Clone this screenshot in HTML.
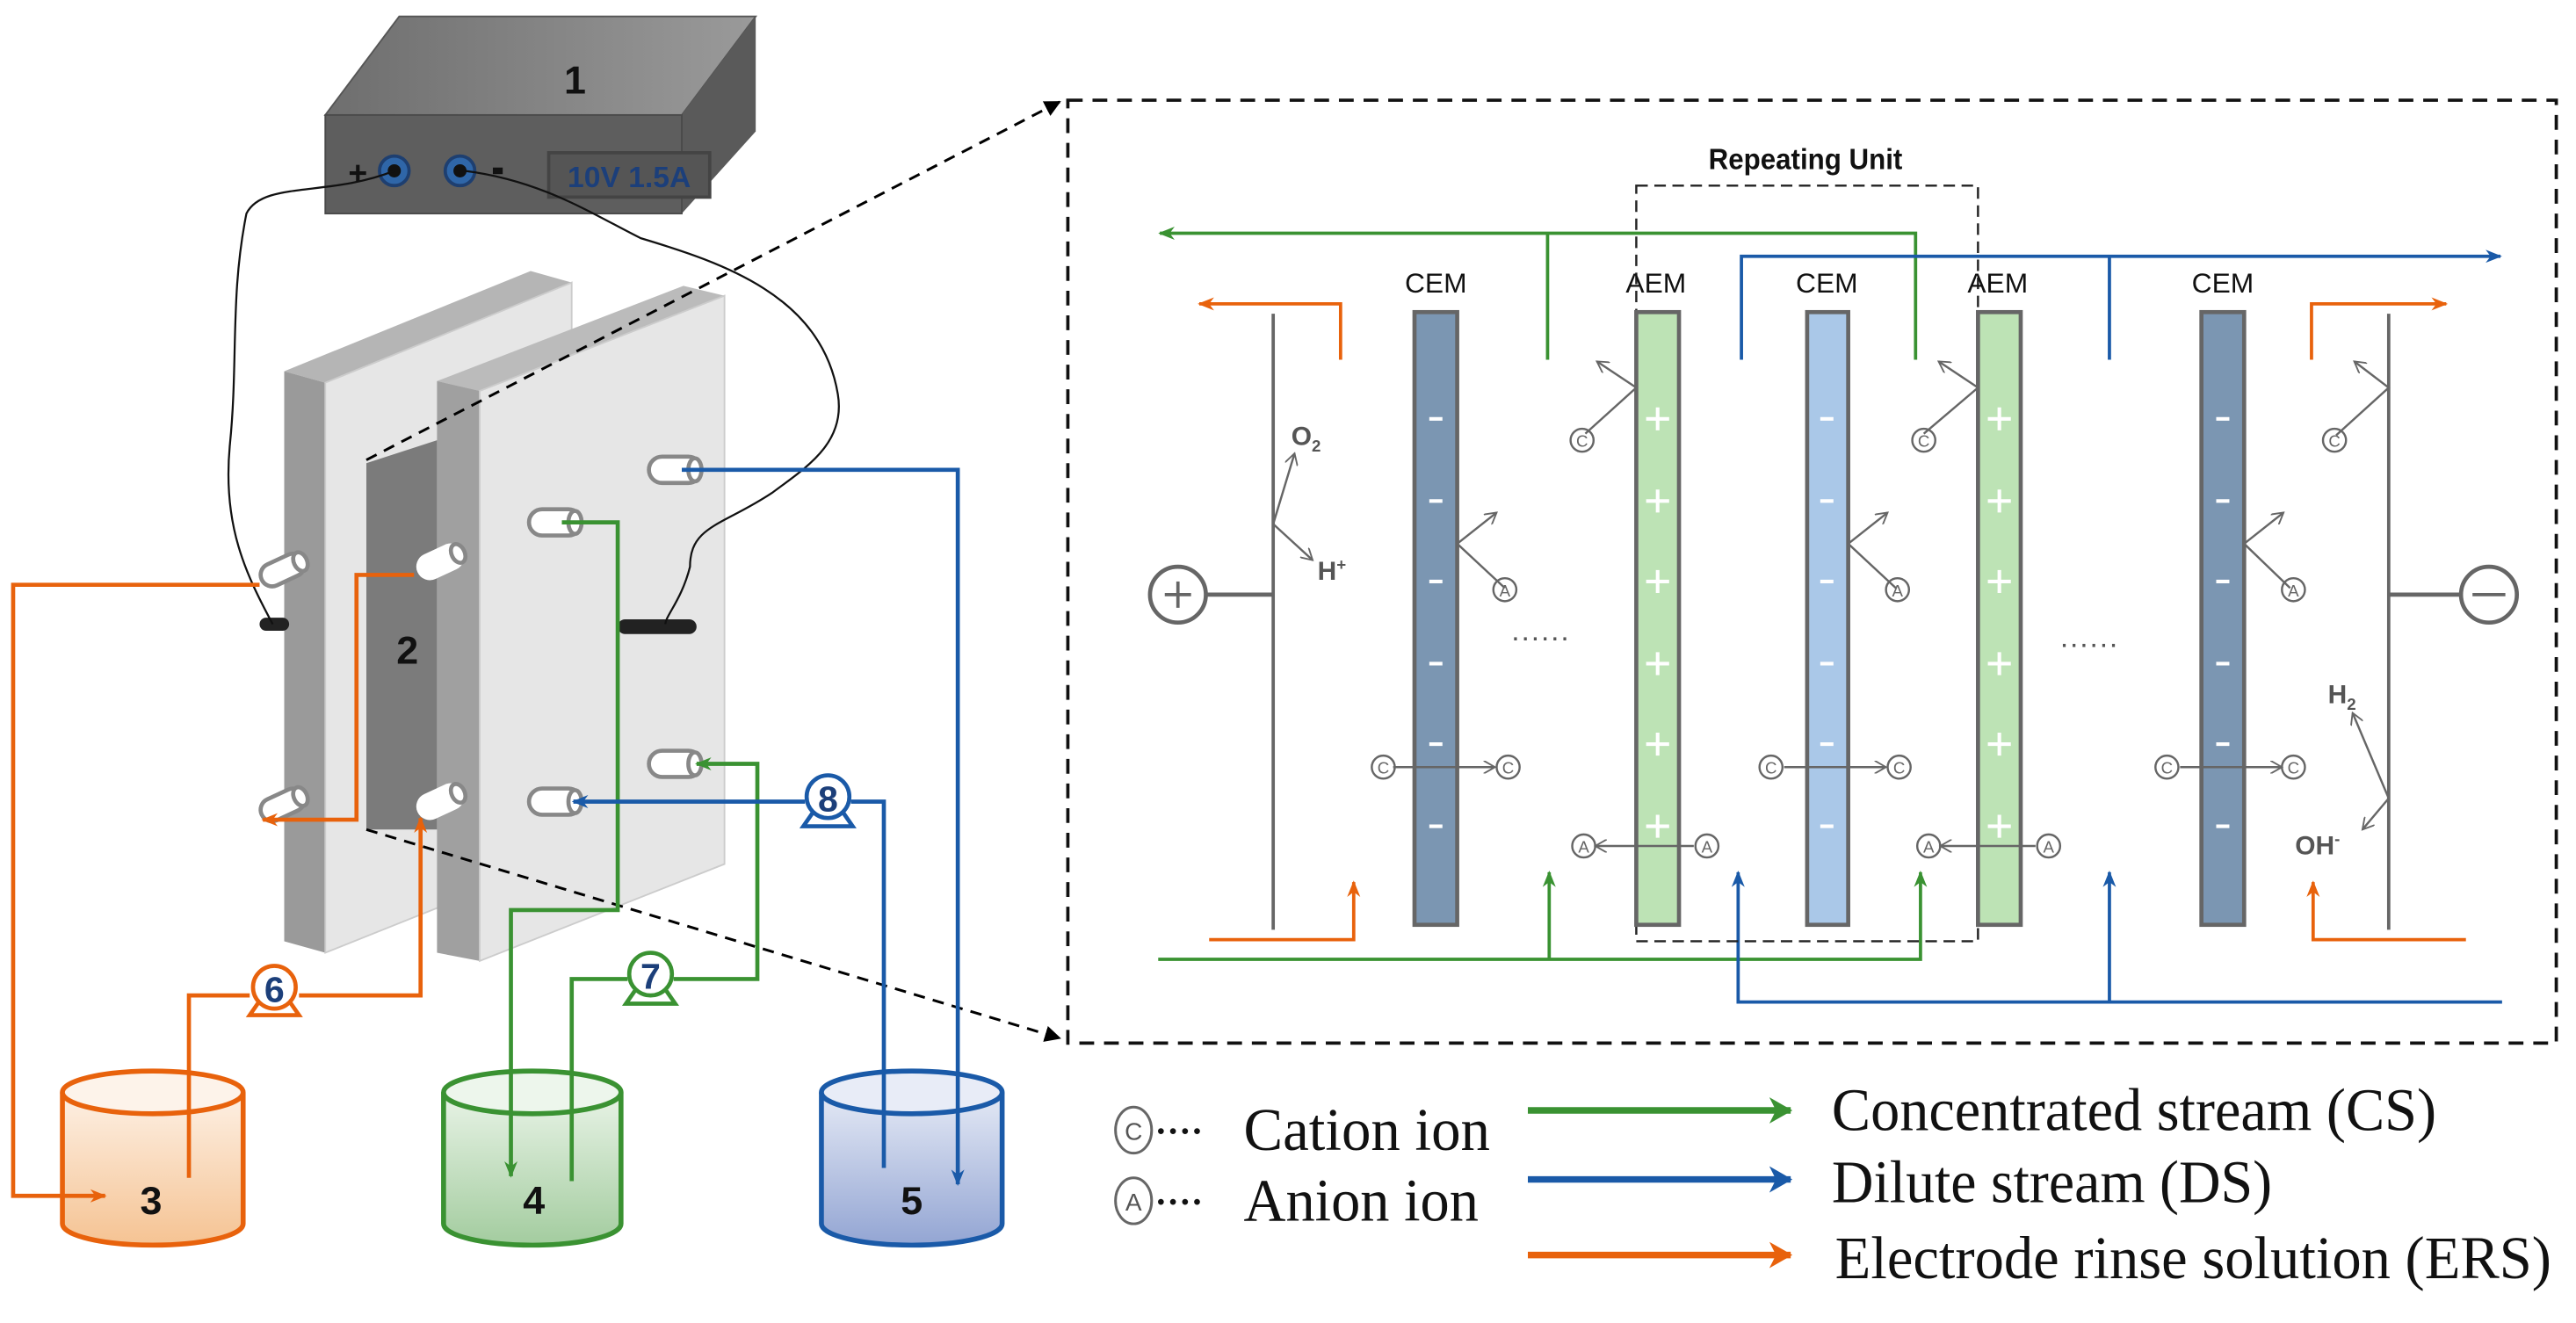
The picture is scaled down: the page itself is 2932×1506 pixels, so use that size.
<!DOCTYPE html>
<html><head><meta charset="utf-8"><style>html,body{margin:0;padding:0;background:#fff}svg{display:block}</style></head><body>
<svg width="2932" height="1506" viewBox="0 0 1568 805.4" preserveAspectRatio="none" xmlns="http://www.w3.org/2000/svg" font-family="Liberation Sans, sans-serif">
<defs>
<marker id="ab" markerWidth="10" markerHeight="10" refX="9" refY="5" orient="auto" markerUnits="userSpaceOnUse"><path d="M0,0 L10,5 L0,10 z" fill="#000"/></marker>
<marker id="ao" markerWidth="10" markerHeight="10" refX="9" refY="5" orient="auto" markerUnits="userSpaceOnUse"><path d="M0,1 L10,5 L0,9 L3,5 z" fill="#e8620c"/></marker>
<marker id="ag" markerWidth="10" markerHeight="10" refX="9" refY="5" orient="auto" markerUnits="userSpaceOnUse"><path d="M0,1 L10,5 L0,9 L3,5 z" fill="#3a9232"/></marker>
<marker id="abl" markerWidth="10" markerHeight="10" refX="9" refY="5" orient="auto" markerUnits="userSpaceOnUse"><path d="M0,1 L10,5 L0,9 L3,5 z" fill="#1a5aa8"/></marker>
<marker id="agr" markerWidth="8" markerHeight="8" refX="7" refY="4" orient="auto" markerUnits="userSpaceOnUse"><path d="M0,0 L7,4 L0,8" fill="none" stroke="#666" stroke-width="1"/></marker>
<marker id="lg" markerWidth="14" markerHeight="16" refX="13" refY="8" orient="auto" markerUnits="userSpaceOnUse"><path d="M0,0 L14,8 L0,16 L4,8z" fill="#3a9232"/></marker>
<marker id="lb" markerWidth="14" markerHeight="16" refX="13" refY="8" orient="auto" markerUnits="userSpaceOnUse"><path d="M0,0 L14,8 L0,16 L4,8z" fill="#1a5aa8"/></marker>
<marker id="lo" markerWidth="14" markerHeight="16" refX="13" refY="8" orient="auto" markerUnits="userSpaceOnUse"><path d="M0,0 L14,8 L0,16 L4,8z" fill="#e8620c"/></marker>
<linearGradient id="t3" x1="0" y1="0" x2="0" y2="1"><stop offset="0" stop-color="#fdf0e4"/><stop offset="1" stop-color="#f5c393"/></linearGradient>
<linearGradient id="t4" x1="0" y1="0" x2="0" y2="1"><stop offset="0" stop-color="#e8f3e6"/><stop offset="1" stop-color="#a3cc9f"/></linearGradient>
<linearGradient id="t5" x1="0" y1="0" x2="0" y2="1"><stop offset="0" stop-color="#e4e9f5"/><stop offset="1" stop-color="#93a5d3"/></linearGradient>
<linearGradient id="ps" x1="0" y1="0" x2="1" y2="0"><stop offset="0" stop-color="#6e6e6e"/><stop offset="1" stop-color="#9a9a9a"/></linearGradient>
</defs>

<polygon points="243,10 460,10 415,70 198,70" fill="url(#ps)" stroke="#555"/>
<polygon points="415,70 460,10 460,80 415,130" fill="#5a5a5a"/>
<rect x="198" y="70" width="217" height="60" fill="#5e5e5e" stroke="#4a4a4a"/>
<text x="350" y="57" font-size="24" font-weight="bold" text-anchor="middle" fill="#111">1</text>
<text x="212" y="112" font-size="20" font-weight="bold" fill="#111">+</text>
<circle cx="240" cy="104" r="9" fill="#2f66a8" stroke="#1e3f70" stroke-width="2"/><circle cx="240" cy="104" r="4" fill="#111"/>
<circle cx="280" cy="104" r="9" fill="#2f66a8" stroke="#1e3f70" stroke-width="2"/><circle cx="280" cy="104" r="4" fill="#111"/>
<rect x="300" y="102" width="6" height="4" fill="#111"/>
<rect x="334" y="93" width="98" height="27" fill="#555" stroke="#444" stroke-width="2"/>
<text x="383" y="114" font-size="18" font-weight="bold" fill="#1c3f7a" text-anchor="middle">10V 1.5A</text>

<polygon points="173,226 323,165 348,172 198,233" fill="#b5b5b5"/>
<polygon points="173,226 198,233 198,580 173,573" fill="#9a9a9a"/>
<polygon points="198,233 348,172 348,520 198,580" fill="#e6e6e6" stroke="#ccc"/>
<polygon points="223,282 266,268 266,505 223,505" fill="#7b7b7b"/>
<polygon points="266,232 416,174 441,180 292,238" fill="#bbb"/>
<polygon points="266,232 292,238 292,585 266,580" fill="#a0a0a0"/>
<polygon points="292,238 441,180 441,526 292,585" fill="#e6e6e6" stroke="#ccc"/>
<text x="248" y="404" font-size="24" font-weight="bold" text-anchor="middle" fill="#111">2</text>

<rect x="158" y="376" width="18" height="8" rx="4" fill="#222"/>
<rect x="376" y="377" width="48" height="9" rx="4.5" fill="#222"/>

<path d="M240,104 C200,120 160,110 150,130 C140,180 145,220 140,270 C135,320 150,350 166,380" fill="none" stroke="#111" stroke-width="1.2"/>
<path d="M283,104 C330,110 360,130 390,145 C440,160 500,180 510,240 C515,270 490,285 470,300 C440,320 420,320 420,345 C415,365 405,375 405,380" fill="none" stroke="#111" stroke-width="1.2"/>

<g fill="#fff" stroke="#888" stroke-width="2.5">
<g transform="translate(172,347) rotate(-25)"><rect x="-14" y="-7" width="28" height="14" rx="7"/><ellipse cx="12" cy="0" rx="4" ry="6"/></g>
<g transform="translate(172,490) rotate(-25)"><rect x="-14" y="-7" width="28" height="14" rx="7"/><ellipse cx="12" cy="0" rx="4" ry="6"/></g>
<g transform="translate(268,342) rotate(-25)"><rect x="-14" y="-7" width="28" height="14" rx="7" stroke="#fff"/><ellipse cx="12" cy="0" rx="4" ry="6"/></g>
<g transform="translate(268,488) rotate(-25)"><rect x="-14" y="-7" width="28" height="14" rx="7" stroke="#fff"/><ellipse cx="12" cy="0" rx="4" ry="6"/></g>
<g transform="translate(338,318)"><rect x="-16" y="-8" width="32" height="16" rx="8"/><ellipse cx="12" cy="0" rx="4" ry="7"/></g>
<g transform="translate(338,488)"><rect x="-16" y="-8" width="32" height="16" rx="8"/><ellipse cx="12" cy="0" rx="4" ry="7"/></g>
<g transform="translate(411,286)"><rect x="-16" y="-8" width="32" height="16" rx="8"/><ellipse cx="12" cy="0" rx="4" ry="7"/></g>
<g transform="translate(411,465)"><rect x="-16" y="-8" width="32" height="16" rx="8"/><ellipse cx="12" cy="0" rx="4" ry="7"/></g>
</g>

<line x1="223" y1="280" x2="645" y2="62" stroke="#000" stroke-width="1.6" stroke-dasharray="7,5" marker-end="url(#ab)"/>
<line x1="223" y1="505" x2="645" y2="632" stroke="#000" stroke-width="1.6" stroke-dasharray="7,5" marker-end="url(#ab)"/>

<g stroke-width="3">
<path d="M38,665 L38,745 A55,13 0 0 0 148,745 L148,665" fill="url(#t3)" stroke="#e8620c"/>
<ellipse cx="93" cy="665" rx="55" ry="13" fill="#fdf3ea" stroke="#e8620c"/>
<path d="M270,665 L270,745 A54,13 0 0 0 378,745 L378,665" fill="url(#t4)" stroke="#3a9232"/>
<ellipse cx="324" cy="665" rx="54" ry="13" fill="#edf6ec" stroke="#3a9232"/>
<path d="M500,665 L500,745 A55,13 0 0 0 610,745 L610,665" fill="url(#t5)" stroke="#1a5aa8"/>
<ellipse cx="555" cy="665" rx="55" ry="13" fill="#e8ecf7" stroke="#1a5aa8"/>
</g>
<text x="92" y="739" font-size="24" font-weight="bold" text-anchor="middle" fill="#111">3</text>
<text x="325" y="739" font-size="24" font-weight="bold" text-anchor="middle" fill="#111">4</text>
<text x="555" y="739" font-size="24" font-weight="bold" text-anchor="middle" fill="#111">5</text>

<g fill="none" stroke="#e8620c" stroke-width="2.5">
<polyline points="158,356 8,356 8,728 64,728" marker-end="url(#ao)"/>
<polyline points="252,350 217,350 217,499 160,499" marker-end="url(#ao)"/>
<polyline points="115,717 115,606 152,606"/>
<polyline points="182,606 256,606 256,498" marker-end="url(#ao)"/>
</g>
<g stroke="#e8620c" stroke-width="2.5" fill="#fff"><path d="M152,618 L182,618 L173,605 L161,605z"/><circle cx="167" cy="601" r="13"/></g>
<text x="167" y="610" font-size="22" font-weight="bold" text-anchor="middle" fill="#1c3f7a">6</text>

<g fill="none" stroke="#3a9232" stroke-width="2.5">
<polyline points="342,318 376,318 376,554 311,554 311,716" marker-end="url(#ag)"/>
<polyline points="348,719 348,596 382,596"/>
<polyline points="410,596 461,596 461,465 424,465" marker-end="url(#ag)"/>
</g>
<g stroke="#3a9232" stroke-width="2.5" fill="#fff"><path d="M381,611 L411,611 L402,598 L390,598z"/><circle cx="396" cy="593" r="13"/></g>
<text x="396" y="602" font-size="22" font-weight="bold" text-anchor="middle" fill="#1c3f7a">7</text>

<g fill="none" stroke="#1a5aa8" stroke-width="2.5">
<polyline points="415,286 583,286 583,721" marker-end="url(#abl)"/>
<polyline points="538,711 538,488 518,488"/>
<polyline points="490,488 349,488" marker-end="url(#abl)"/>
</g>
<g stroke="#1a5aa8" stroke-width="2.5" fill="#fff"><path d="M489,503 L519,503 L510,490 L498,490z"/><circle cx="504" cy="485" r="13"/></g>
<text x="504" y="494" font-size="22" font-weight="bold" text-anchor="middle" fill="#1c3f7a">8</text>

<rect x="650" y="61" width="906" height="574" fill="none" stroke="#111" stroke-width="2" stroke-dasharray="9,6"/>
<text x="1099" y="103" font-size="18" font-weight="bold" text-anchor="middle" fill="#111" textLength="118" lengthAdjust="spacingAndGlyphs">Repeating Unit</text>

<g fill="none" stroke-width="2">
<polyline points="1166,219 1166,142 706,142" stroke="#3a9232" marker-end="url(#ag)"/>
<line x1="942" y1="142" x2="942" y2="219" stroke="#3a9232"/>
<polyline points="1060,219 1060,156 1522,156" stroke="#1a5aa8" marker-end="url(#abl)"/>
<line x1="1284" y1="156" x2="1284" y2="219" stroke="#1a5aa8"/>
<polyline points="816,219 816,185 730,185" stroke="#e8620c" marker-end="url(#ao)"/>
<polyline points="1407,219 1407,185 1489,185" stroke="#e8620c" marker-end="url(#ao)"/>
<polyline points="736,572 824,572 824,537" stroke="#e8620c" marker-end="url(#ao)"/>
<polyline points="1501,572 1408,572 1408,537" stroke="#e8620c" marker-end="url(#ao)"/>
<polyline points="705,584 1169,584 1169,531" stroke="#3a9232" marker-end="url(#ag)"/>
<line x1="943" y1="584" x2="943" y2="531" stroke="#3a9232" marker-end="url(#ag)"/>
<polyline points="1523,610 1058,610 1058,531" stroke="#1a5aa8" marker-end="url(#abl)"/>
<line x1="1284" y1="610" x2="1284" y2="531" stroke="#1a5aa8" marker-end="url(#abl)"/>
</g>
<rect x="996" y="113" width="208" height="460" fill="none" stroke="#222" stroke-width="1.3" stroke-dasharray="7,4"/>

<g stroke="#666" stroke-width="2" fill="none">
<line x1="775" y1="191" x2="775" y2="566"/>
<line x1="1454" y1="191" x2="1454" y2="566"/>
<line x1="735" y1="362" x2="775" y2="362" stroke-width="2.5"/>
<line x1="1454" y1="362" x2="1497" y2="362" stroke-width="2.5"/>
<circle cx="717" cy="362" r="17" stroke-width="2.5" fill="#fff"/>
<circle cx="1515" cy="362" r="17" stroke-width="2.5" fill="#fff"/>
<line x1="709" y1="362" x2="725" y2="362"/><line x1="717" y1="354" x2="717" y2="370"/>
<line x1="1505" y1="362" x2="1525" y2="362"/>
</g>

<g stroke="#666" stroke-width="2.5">
<rect x="861" y="190" width="26" height="373" fill="#7b96b2"/>
<rect x="996" y="190" width="26" height="373" fill="#bde3b5"/>
<rect x="1100" y="190" width="25" height="373" fill="#aac8e8"/>
<rect x="1204" y="190" width="26" height="373" fill="#bde3b5"/>
<rect x="1340" y="190" width="26" height="373" fill="#7b96b2"/>
</g>
<g font-size="17" text-anchor="middle" fill="#111">
<text x="874" y="178">CEM</text><text x="1008" y="178">AEM</text><text x="1112" y="178">CEM</text><text x="1216" y="178">AEM</text><text x="1353" y="178">CEM</text>
</g>
<g stroke="#fff" stroke-width="2.2">
<path d="M870,255h8M870,305h8M870,354h8M870,404h8M870,453h8M870,503h8"/>
<path d="M1108,255h8M1108,305h8M1108,354h8M1108,404h8M1108,453h8M1108,503h8"/>
<path d="M1349,255h8M1349,305h8M1349,354h8M1349,404h8M1349,453h8M1349,503h8"/>
<path d="M1002,255h14M1009,248v14M1002,305h14M1009,298v14M1002,354h14M1009,347v14M1002,404h14M1009,397v14M1002,453h14M1009,446v14M1002,503h14M1009,496v14"/>
<path d="M1210,255h14M1217,248v14M1210,305h14M1217,298v14M1210,354h14M1217,347v14M1210,404h14M1217,397v14M1210,453h14M1217,446v14M1210,503h14M1217,496v14"/>
</g>

<g stroke="#666" stroke-width="1.3" fill="none">
<polyline points="775,319 788,276" marker-end="url(#agr)"/><line x1="775" y1="319" x2="799" y2="341" marker-end="url(#agr)"/>
<polyline points="1454,486 1432,434" marker-end="url(#agr)"/><line x1="1454" y1="486" x2="1438" y2="505" marker-end="url(#agr)"/>
<line x1="848" y1="467" x2="910" y2="467" marker-end="url(#agr)"/>
<line x1="1086" y1="467" x2="1148" y2="467" marker-end="url(#agr)"/>
<line x1="1327" y1="467" x2="1389" y2="467" marker-end="url(#agr)"/>
<line x1="1031" y1="515" x2="971" y2="515" marker-end="url(#agr)"/>
<line x1="1239" y1="515" x2="1181" y2="515" marker-end="url(#agr)"/>
<polyline points="916,358 887,331 911,312" marker-end="url(#agr)"/>
<polyline points="1154,358 1125,331 1149,312" marker-end="url(#agr)"/>
<polyline points="1394,358 1366,331 1390,312" marker-end="url(#agr)"/>
<polyline points="965,264 996,236 972,220" marker-end="url(#agr)"/>
<polyline points="1171,264 1204,236 1180,220" marker-end="url(#agr)"/>
<polyline points="1422,265 1454,236 1433,220" marker-end="url(#agr)"/>
</g>
<g font-size="10" text-anchor="middle" fill="#666" stroke="none">
<g fill="none" stroke="#666" stroke-width="1.3">
<circle cx="842" cy="467" r="7"/><circle cx="918" cy="467" r="7"/>
<circle cx="1078" cy="467" r="7"/><circle cx="1156" cy="467" r="7"/>
<circle cx="1319" cy="467" r="7"/><circle cx="1396" cy="467" r="7"/>
<circle cx="964" cy="515" r="7"/><circle cx="1039" cy="515" r="7"/>
<circle cx="1174" cy="515" r="7"/><circle cx="1247" cy="515" r="7"/>
<circle cx="916" cy="359" r="7"/><circle cx="1155" cy="359" r="7"/><circle cx="1396" cy="359" r="7"/>
<circle cx="963" cy="268" r="7"/><circle cx="1171" cy="268" r="7"/><circle cx="1421" cy="268" r="7"/>
</g>
<text x="842" y="471">C</text><text x="918" y="471">C</text><text x="1078" y="471">C</text><text x="1156" y="471">C</text><text x="1319" y="471">C</text><text x="1396" y="471">C</text>
<text x="964" y="519">A</text><text x="1039" y="519">A</text><text x="1174" y="519">A</text><text x="1247" y="519">A</text>
<text x="916" y="363">A</text><text x="1155" y="363">A</text><text x="1396" y="363">A</text>
<text x="963" y="272">C</text><text x="1171" y="272">C</text><text x="1421" y="272">C</text>
</g>
<g font-size="16" font-weight="bold" fill="#555">
<text x="786" y="271">O<tspan font-size="10" dy="4">2</tspan></text>
<text x="802" y="353">H<tspan font-size="10" dy="-6">+</tspan></text>
<text x="1417" y="428">H<tspan font-size="10" dy="4">2</tspan></text>
<text x="1397" y="520">OH<tspan font-size="10" dy="-6">-</tspan></text>
</g>
<g fill="#555"><text x="920" y="390" font-size="18" letter-spacing="1">......</text><text x="1254" y="394" font-size="18" letter-spacing="1">......</text></g>

<g fill="none" stroke="#666" stroke-width="1.6">
<ellipse cx="690" cy="688" rx="11" ry="14"/><ellipse cx="690" cy="731" rx="11" ry="14"/>
</g>
<g font-size="15" fill="#555" text-anchor="middle"><text x="690" y="694">C</text><text x="690" y="737">A</text></g>
<g fill="#111" font-family="Liberation Serif, serif" font-size="37">
<text x="703" y="696" font-size="22" font-weight="bold">····</text><text x="703" y="739" font-size="22" font-weight="bold">····</text>
<text x="757" y="700" textLength="150" lengthAdjust="spacingAndGlyphs">Cation ion</text>
<text x="757" y="743" textLength="143" lengthAdjust="spacingAndGlyphs">Anion ion</text>
<text x="1115" y="688" textLength="368" lengthAdjust="spacingAndGlyphs">Concentrated stream (CS)</text>
<text x="1115" y="732" textLength="268" lengthAdjust="spacingAndGlyphs">Dilute stream (DS)</text>
<text x="1117" y="778" textLength="436" lengthAdjust="spacingAndGlyphs">Electrode rinse solution (ERS)</text>
</g>
<line x1="930" y1="676" x2="1090" y2="676" stroke="#3a9232" stroke-width="4" marker-end="url(#lg)"/>
<line x1="930" y1="718" x2="1090" y2="718" stroke="#1a5aa8" stroke-width="4" marker-end="url(#lb)"/>
<line x1="930" y1="764" x2="1090" y2="764" stroke="#e8620c" stroke-width="4" marker-end="url(#lo)"/>
</svg>
</body></html>
